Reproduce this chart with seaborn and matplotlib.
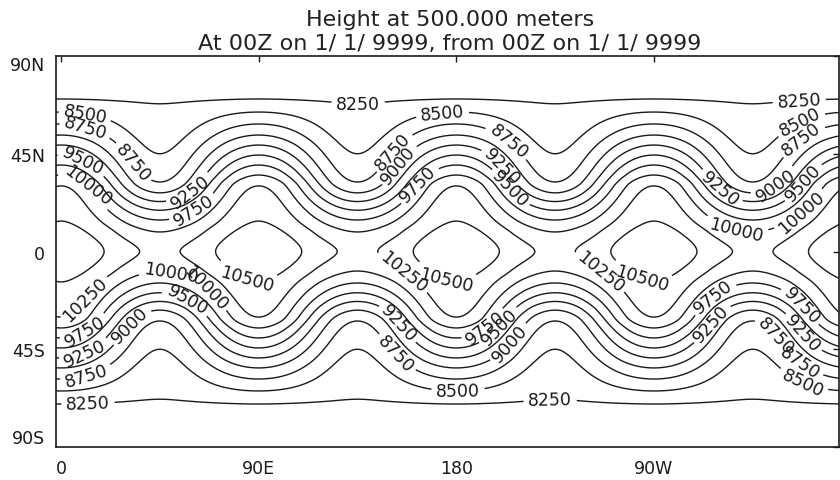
import numpy as np
import matplotlib
matplotlib.use("Agg")
import matplotlib.pyplot as plt
import seaborn as sns

# Contour levels of the height field (m)
levels = [8250, 8500, 8750, 9000, 9250, 9500, 9750, 10000, 10250, 10500]

# Height along the ridge meridians (0, 90E, 180, 90W): latitude (deg) -> height (m)
ridge_lat = [0.0, 14.0, 30.2, 35.2, 39.8, 44.4, 49.0, 53.6, 58.7, 64.2, 70.2, 90.0]
ridge_hgt = [10700, 10500, 10250, 10000, 9750, 9500, 9250, 9000, 8750, 8500, 8250, 8080]

# Height along the trough meridians (45E, 135E, 135W, 45W)
trough_lat = [0.0, 9.0, 14.5, 19.0, 23.0, 27.0, 32.0, 45.0, 68.0, 90.0]
trough_hgt = [10200, 10000, 9750, 9500, 9250, 9000, 8750, 8500, 8250, 8080]

wavenumber = 4

x_ticks = [0, 90, 180, 270]
x_labels = ["0", "90E", "180", "90W"]
y_ticks = [-90, -45, 0, 45, 90]
y_labels = ["90S", "45S", "0", "45N", "90N"]

title_1 = "Height at 500.000 meters"
title_2 = "At 00Z on 1/ 1/ 9999, from 00Z on 1/ 1/ 9999"


def pchip(x, y, xi):
    """Monotone cubic Hermite interpolation with flat ends."""
    x = np.asarray(x, float)
    y = np.asarray(y, float)
    h = np.diff(x)
    d = np.diff(y) / h
    m = np.zeros_like(y)
    for k in range(1, len(x) - 1):
        if d[k - 1] * d[k] > 0:
            w1 = 2 * h[k] + h[k - 1]
            w2 = h[k] + 2 * h[k - 1]
            m[k] = (w1 + w2) / (w1 / d[k - 1] + w2 / d[k])
    idx = np.clip(np.searchsorted(x, xi) - 1, 0, len(x) - 2)
    t = (xi - x[idx]) / h[idx]
    h00 = 2 * t**3 - 3 * t**2 + 1
    h10 = t**3 - 2 * t**2 + t
    h01 = -2 * t**3 + 3 * t**2
    h11 = t**3 - t**2
    return (h00 * y[idx] + h10 * h[idx] * m[idx]
            + h01 * y[idx + 1] + h11 * h[idx] * m[idx + 1])


lat = np.arange(-90, 90.01, 0.5)
lon = np.arange(-10, 370.01, 0.5)
alat = np.abs(lat)
ridge = pchip(ridge_lat, ridge_hgt, alat)
trough = pchip(trough_lat, trough_hgt, alat)
mean = 0.5 * (ridge + trough)
amp = 0.5 * (ridge - trough)
LON, LAT = np.meshgrid(lon, lat)
Z = mean[:, None] + amp[:, None] * np.cos(np.deg2rad(wavenumber * LON))

sns.set_style("white")
plt.rcParams["font.family"] = ["DejaVu Sans"]

W, H = 840, 481
fig = plt.figure(figsize=(W / 100, H / 100), dpi=100)
ax = fig.add_axes([56 / W, 1 - 448 / H, (839 - 56) / W, (448 - 57) / H])

ink = "#1a1a1a"
cs = ax.contour(LON, LAT, Z, levels=levels, colors=ink, linewidths=1.0)

# Where the contour labels sit (lon, lat)
label_spots = [
    # northern belt
    (11.3, 65.0), (10.9, 55.9), (11.0, 43.5), (33.7, 41.7), (11.8, 30.2),
    (58.7, 27.9), (60.0, 19.6),
    (135.3, 69.6), (173.5, 65.6), (205.8, 53.2), (150.7, 46.2),
    (155.2, 38.9), (162.5, 31.1), (202.0, 40.3), (204.0, 28.8),
    (336.0, 72.5), (337.0, 58.7), (338.0, 50.8), (299.0, 27.9),
    (325.0, 31.0), (339.0, 31.0), (308.0, 11.7), (338.0, 17.3),
    # equatorial highs
    (155.0, -10.4), (175.8, -11.7), (265.0, -11.3), (244.6, -10.4),
    (50.5, -7.1), (67.0, -15.0), (85.0, -11.7),
    # southern belt
    (11.0, -21.9), (57.0, -22.9), (11.0, -36.6), (32.0, -34.3),
    (11.8, -48.6), (11.8, -57.8), (12.3, -70.7),
    (151.2, -48.0), (153.0, -33.4), (192.0, -33.4), (200.0, -34.8),
    (206.0, -43.5), (180.8, -64.2), (222.7, -67.0),
    (297.8, -21.9), (296.5, -33.4), (326.5, -38.0), (339.0, -36.6),
    (338.0, -49.5), (337.0, -61.9), (339.0, -23.2),
]
ax.clabel(cs, fmt="%d", fontsize=12.5, inline=True, inline_spacing=3,
          colors=ink, manual=label_spots)

ax.set_xlim(-2.3, 354.3)
ax.set_ylim(-90, 90)
ax.set_xticks(x_ticks)
ax.set_xticklabels(x_labels)
ax.set_yticks(y_ticks)
ax.set_yticklabels(y_labels)
ax.tick_params(direction="in", length=4, width=1.0, top=True, right=True,
               labelsize=12.5, colors=ink, pad=8)
ax.tick_params(axis="x", pad=9)
ylabs = ax.get_yticklabels()
ylabs[0].set_va("bottom")
ylabs[-1].set_va("top")
for s in ax.spines.values():
    s.set_linewidth(1.2)
    s.set_color(ink)

fig.text(450 / W, 1 - 26 / H, title_1, ha="center", va="baseline",
         fontsize=16, color="#222222")
fig.text(450 / W, 1 - 50 / H, title_2, ha="center", va="baseline",
         fontsize=16, color="#222222")

fig.savefig("out.png", dpi=100, facecolor="white")
